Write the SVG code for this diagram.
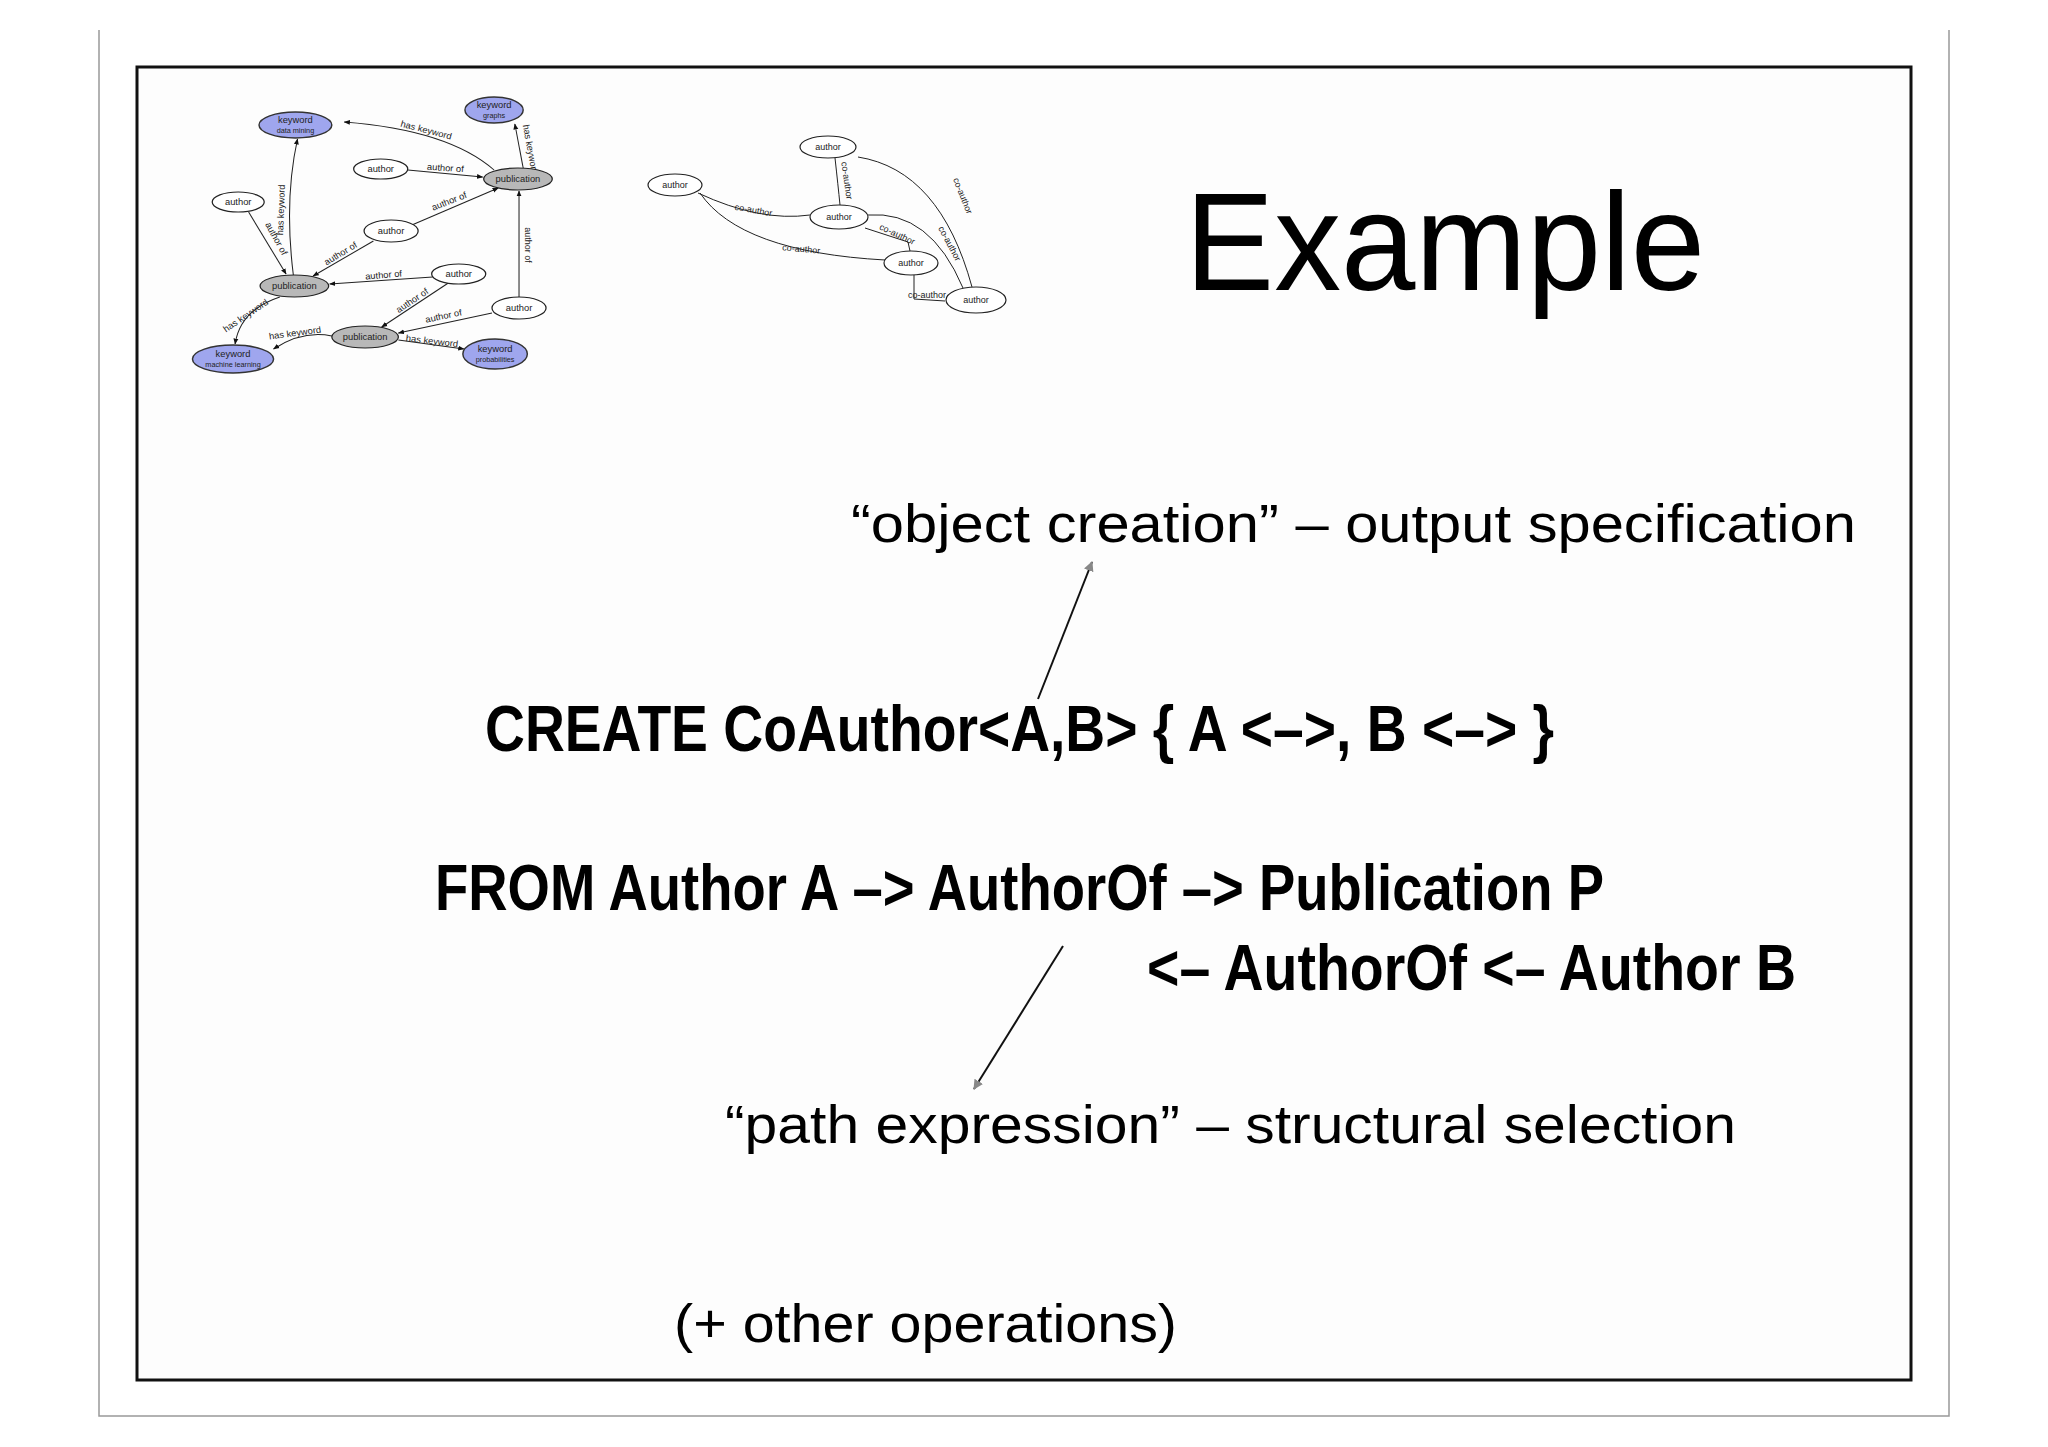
<svg xmlns="http://www.w3.org/2000/svg" width="2048" height="1447" viewBox="0 0 2048 1447">
<defs>
<marker id="ah" viewBox="0 0 10 10" refX="9" refY="5" markerWidth="6" markerHeight="6" orient="auto"><path d="M0,1 L10,5 L0,9 z" fill="#111"/></marker>
<marker id="gh" viewBox="0 0 10 10" refX="9" refY="5" markerWidth="5" markerHeight="5" orient="auto"><path d="M0,0 L10,5 L0,10 z" fill="#888"/></marker>
<style>
.n{fill:#fff;stroke:#222;stroke-width:1.2}
.p{fill:#b8b8b8;stroke:#222;stroke-width:1.2}
.k{fill:#9fa6ee;stroke:#333;stroke-width:1.4}
.t{font-family:"Liberation Sans",Arial,sans-serif;font-size:9px;fill:#222;text-anchor:middle}
.s{font-family:"Liberation Sans",Arial,sans-serif;font-size:7px;fill:#222;text-anchor:middle}
.e{fill:none;stroke:#222;stroke-width:1;marker-end:url(#ah)}
.u{fill:none;stroke:#222;stroke-width:1}
.l{font-family:"Liberation Sans",Arial,sans-serif;font-size:9px;fill:#222;text-anchor:middle}
.big{font-family:"Liberation Sans",Arial,sans-serif;fill:#000}
.bold{font-family:"Liberation Sans Narrow","Liberation Sans",Arial,sans-serif;font-weight:bold;fill:#000}
</style>
</defs>
<rect width="2048" height="1447" fill="#fff"/>
<path d="M99,30 V1416 H1949 V30" fill="none" stroke="#999" stroke-width="1.5"/>
<rect x="137" y="67" width="1774" height="1313" fill="#fdfdfd" stroke="#111" stroke-width="3"/>

<g id="left-graph" transform="matrix(1.04,0,0,1,-9.3,0)">
<g id="connectors-left">
<path class="e" d="M484,170 Q440,130 340,122"/>
<path class="e" d="M512,168 L504,124"/>
<path class="e" d="M401,170 L473,177"/>
<path class="e" d="M405,225 L488,188"/>
<path class="e" d="M248,212 L284,274"/>
<path class="e" d="M291,275 Q282,200 295,139"/>
<path class="e" d="M368,241 L310,276"/>
<path class="e" d="M425,277 L326,284"/>
<path class="e" d="M440,283 L376,327"/>
<path class="e" d="M482,313 L392,333"/>
<path class="e" d="M508,297 L508,191"/>
<path class="e" d="M278,297 Q240,310 235,344"/>
<path class="e" d="M328,336 Q300,330 272,349"/>
<path class="e" d="M392,340 L455,349"/>
<text class="l" transform="translate(418,133) rotate(15)">has keyword</text>
<text class="l" transform="translate(516,150) rotate(80)">has keyword</text>
<text class="l" transform="translate(437,171) rotate(4)">author of</text>
<text class="l" transform="translate(442,204) rotate(-22)">author of</text>
<text class="l" transform="translate(272,240) rotate(62)">author of</text>
<text class="l" transform="translate(282,210) rotate(-88)">has keyword</text>
<text class="l" transform="translate(338,256) rotate(-32)">author of</text>
<text class="l" transform="translate(378,278) rotate(-5)">author of</text>
<text class="l" transform="translate(407,303) rotate(-35)">author of</text>
<text class="l" transform="translate(436,319) rotate(-12)">author of</text>
<text class="l" transform="translate(514,245) rotate(90)">author of</text>
<text class="l" transform="translate(247,318) rotate(-35)">has keyword</text>
<text class="l" transform="translate(293,336) rotate(-8)">has keyword</text>
<text class="l" transform="translate(424,344) rotate(7)">has keyword</text>
</g>
<g id="kw-datamining"><ellipse class="k" cx="293" cy="125" rx="35" ry="13"/><text class="t" x="293" y="123">keyword</text><text class="s" x="293" y="133">data mining</text></g>
<g id="kw-graphs"><ellipse class="k" cx="484" cy="110" rx="28" ry="13"/><text class="t" x="484" y="108">keyword</text><text class="s" x="484" y="118">graphs</text></g>
<g id="a1"><ellipse class="n" cx="375" cy="169" rx="26" ry="10"/><text class="t" x="375" y="172">author</text></g>
<g id="pub1"><ellipse class="p" cx="507" cy="179" rx="33" ry="11"/><text class="t" x="507" y="182">publication</text></g>
<g id="a2"><ellipse class="n" cx="238" cy="202" rx="25" ry="10"/><text class="t" x="238" y="205">author</text></g>
<g id="a3"><ellipse class="n" cx="385" cy="231" rx="26" ry="11"/><text class="t" x="385" y="234">author</text></g>
<g id="pub2"><ellipse class="p" cx="292" cy="286" rx="33" ry="11"/><text class="t" x="292" y="289">publication</text></g>
<g id="a4"><ellipse class="n" cx="450" cy="274" rx="26" ry="10"/><text class="t" x="450" y="277">author</text></g>
<g id="a5"><ellipse class="n" cx="508" cy="308" rx="26" ry="11"/><text class="t" x="508" y="311">author</text></g>
<g id="pub3"><ellipse class="p" cx="360" cy="337" rx="32" ry="11"/><text class="t" x="360" y="340">publication</text></g>
<g id="kw-ml"><ellipse class="k" cx="233" cy="359" rx="39" ry="14"/><text class="t" x="233" y="357">keyword</text><text class="s" x="233" y="367">machine learning</text></g>
<g id="kw-prob"><ellipse class="k" cx="485" cy="354" rx="31" ry="15"/><text class="t" x="485" y="352">keyword</text><text class="s" x="485" y="362">probabilities</text></g>
</g>

<g id="connectors">
<path class="u" d="M835,158 Q838,185 840,205"/>
<path class="u" d="M858,157 Q940,170 972,287"/>
<path class="u" d="M698,193 Q760,222 810,215"/>
<path class="u" d="M700,193 Q740,252 885,260"/>
<path class="u" d="M868,215 Q930,210 963,288"/>
<path class="u" d="M865,228 L908,242 L910,251"/>
<path class="u" d="M914,275 L914,299 L945,301"/>
<path d="M1038,699 L1092,562" fill="none" stroke="#111" stroke-width="2" marker-end="url(#gh)"/>
<path d="M1063,946 L974,1089" fill="none" stroke="#111" stroke-width="2" marker-end="url(#gh)"/>
<text class="l" transform="translate(844,181) rotate(82)">co-author</text>
<text class="l" transform="translate(960,197) rotate(68)">co-author</text>
<text class="l" transform="translate(753,213) rotate(10)">co-author</text>
<text class="l" transform="translate(801,252) rotate(5)">co-author</text>
<text class="l" transform="translate(947,245) rotate(62)">co-author</text>
<text class="l" transform="translate(896,237) rotate(25)">co-author</text>
<text class="l" transform="translate(927,298)">co-author</text>
</g>

<g id="b1"><ellipse class="n" cx="828" cy="147" rx="28" ry="11"/><text class="t" x="828" y="150">author</text></g>
<g id="b2"><ellipse class="n" cx="675" cy="185" rx="27" ry="11"/><text class="t" x="675" y="188">author</text></g>
<g id="b3"><ellipse class="n" cx="839" cy="217" rx="29" ry="12"/><text class="t" x="839" y="220">author</text></g>
<g id="b4"><ellipse class="n" cx="911" cy="263" rx="27" ry="12"/><text class="t" x="911" y="266">author</text></g>
<g id="b5"><ellipse class="n" cx="976" cy="300" rx="30" ry="13"/><text class="t" x="976" y="303">author</text></g>

<text class="big" x="1185" y="290" font-size="140" textLength="520" lengthAdjust="spacingAndGlyphs">Example</text>
<text class="big" x="851" y="542" font-size="54" textLength="1005" lengthAdjust="spacingAndGlyphs">“object creation” – output specification</text>
<text class="bold" x="485" y="751" font-size="64" textLength="1069" lengthAdjust="spacingAndGlyphs">CREATE CoAuthor&lt;A,B&gt; { A &lt;–&gt;, B &lt;–&gt; }</text>
<text class="bold" x="435" y="910" font-size="64" textLength="1169" lengthAdjust="spacingAndGlyphs">FROM Author A –&gt; AuthorOf –&gt; Publication P</text>
<text class="bold" x="1147" y="990" font-size="64" textLength="649" lengthAdjust="spacingAndGlyphs">&lt;– AuthorOf &lt;– Author B</text>
<text class="big" x="725" y="1143" font-size="54" textLength="1011" lengthAdjust="spacingAndGlyphs">“path expression” – structural selection</text>
<text class="big" x="674" y="1342" font-size="54" textLength="503" lengthAdjust="spacingAndGlyphs">(+ other operations)</text>
</svg>
